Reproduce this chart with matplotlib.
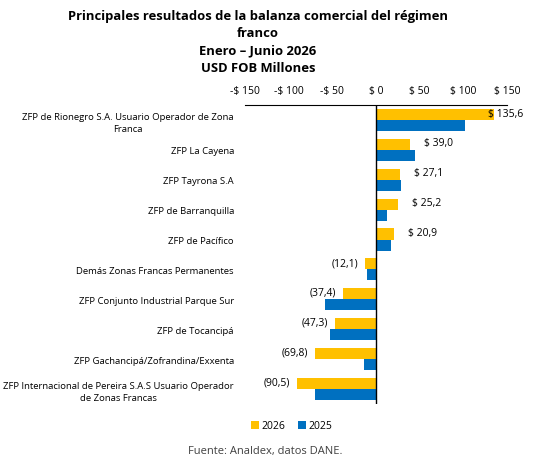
import matplotlib
matplotlib.use("Agg")
import matplotlib.pyplot as plt
import numpy as np

plt.rcParams['font.family'] = ['Open Sans', 'DejaVu Sans']

categorias = [
    "ZFP de Rionegro S.A. Usuario Operador de Zona\nFranca",
    "ZFP La Cayena",
    "ZFP Tayrona S.A",
    "ZFP de Barranquilla",
    "ZFP de Pacífico",
    "Demás Zonas Francas Permanentes",
    "ZFP Conjunto Industrial Parque Sur",
    "ZFP de Tocancipá",
    "ZFP Gachancipá/Zofrandina/Exxenta",
    "ZFP Internacional de Pereira S.A.S Usuario Operador\nde Zonas Francas",
]
valores_2026 = [135.6, 39.0, 27.1, 25.2, 20.9, -12.1, -37.4, -47.3, -69.8, -90.5]
valores_2025 = [102.4, 45.1, 29.0, 13.0, 17.6, -10.0, -58.1, -52.4, -13.4, -69.6]
ticks = [-150, -100, -50, 0, 50, 100, 150]

amarillo = "#FFC000"
azul = "#0070C0"

fig = plt.figure(figsize=(5.33, 4.6), dpi=100)
ax = fig.add_axes([0.4597, 0.1196, 0.4916, 0.65])

y = np.arange(len(categorias))
h = 0.37
ax.barh(y - h / 2, valores_2026, height=h, color=amarillo, label="2026")
ax.barh(y + h / 2, valores_2025, height=h, color=azul, label="2025")

ax.set_xlim(-150, 150)
ax.set_ylim(len(categorias) - 0.5, -0.5)
ax.set_yticks(y)
ax.set_yticklabels(categorias, fontsize=6.8, multialignment="center", linespacing=1.4)
ax.set_xticks(ticks)
ax.set_xticklabels([f"-$ {abs(t)}" if t < 0 else f"$ {t}" for t in ticks], fontsize=7.5)
ax.xaxis.tick_top()
ax.tick_params(axis="both", length=0)
ax.tick_params(axis="x", pad=6.8)
ax.tick_params(axis="y", pad=8)

for s in ["right", "bottom", "left"]:
    ax.spines[s].set_visible(False)
ax.spines["top"].set_linewidth(0.8)
ax.axvline(0, color="black", linewidth=1.0)

# etiquetas de valor en las barras 2026
for yi, v in zip(y, valores_2026):
    if v >= 0:
        txt = f"$ {v:.1f}".replace(".", ",")
        dx = 10 if v < 120 else -5
        ax.annotate(txt, (v, yi - h / 2), xytext=(dx, 1), textcoords="offset points",
                    ha="left", va="center", fontsize=7.5)
    else:
        txt = f"({abs(v):.1f})".replace(".", ",")
        ax.annotate(txt, (v, yi - h / 2), xytext=(-5, 1), textcoords="offset points",
                    ha="right", va="center", fontsize=7.5)

fig.legend(loc="center", bbox_to_anchor=(292 / 533, 1 - 427 / 460), ncol=2, frameon=False,
           fontsize=7.5, handlelength=0.7, handleheight=0.7, handletextpad=0.3,
           columnspacing=1.2)

fig.text(258 / 533, 1 - 10 / 460, "Principales resultados de la balanza comercial del régimen\nfranco\n"
         "Enero – Junio 2026\nUSD FOB Millones", ha="center", va="top",
         fontsize=9.4, fontweight="bold", linespacing=1.43)
fig.text(265 / 533, 1 - 452 / 460, "Fuente: Analdex, datos DANE.", ha="center", va="center",
         fontsize=8, color="#404040")

fig.savefig("out.png", dpi=100)
